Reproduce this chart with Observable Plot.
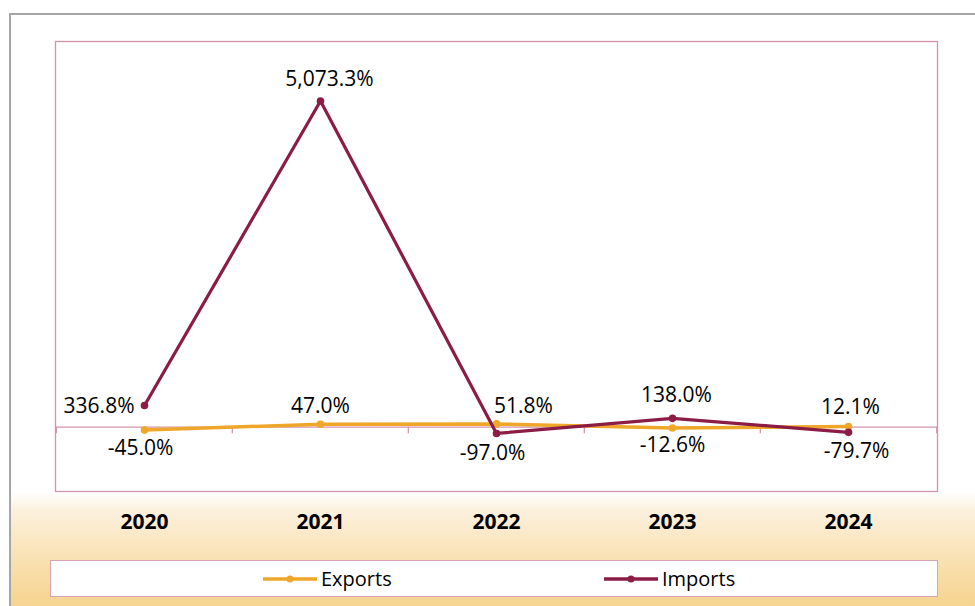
<!DOCTYPE html>
<html><head><meta charset="utf-8">
<script src="https://cdn.jsdelivr.net/npm/d3@7"></script>
<script src="https://cdn.jsdelivr.net/npm/@observablehq/plot@0.6"></script>
<style>
html,body{margin:0;padding:0;background:#fff;}
#wrap{position:relative;width:975px;height:606px;overflow:hidden;background:#fff;font-family:"Open Sans",sans-serif;}
#border{position:absolute;left:9px;top:13px;width:980px;height:600px;border-top:2px solid #A6A6A6;border-left:2px solid #A6A6A6;
 background:linear-gradient(to bottom,#fff 0px,#fff 477px,#FCF1DE 495px,#F9E2B5 540px,#F6D38D 593px);}
#chart{position:absolute;left:0;top:0;}
#legend{position:absolute;left:50px;top:560px;width:886px;height:35px;background:#fff;border:1px solid #D9A2B6;}
.item{position:absolute;top:0;height:35px;display:flex;align-items:center;font-size:20px;color:#000;}
.item svg{margin-right:4px;}
</style></head>
<body>
<div id="wrap">
 <div id="border"></div>
 <div id="chart"></div>
 <div id="legend"></div>
</div>
<script>
const years = ["2020", "2021", "2022", "2023", "2024"];
const exportsGrowth = [-45.0, 47.0, 51.8, -12.6, 12.1];
const importsGrowth = [336.8, 5073.3, -97.0, 138.0, -79.7];
const seriesNames = ["Exports", "Imports"];
const seriesColors = ["#EFA72A", "#8B1C46"];

const locale = d3.formatLocale({decimal: ".", thousands: ",", grouping: [3], currency: ["", ""], minus: "-"});
const fmt = v => locale.format(",.1f")(v) + "%";

// label placement (offsets from point, px)
const exportsLabelOffsets = [[-4, 18, "middle"], [0, -18, "middle"], [27, -18, "middle"], [0, 17, "middle"], [2, -19, "middle"]];
const importsLabelOffsets = [[-10, 1, "end"], [9, -22, "middle"], [-4, 20, "middle"], [4, -23, "middle"], [8, 19, "middle"]];

const exportsData = years.map((y, i) => ({year: y, value: exportsGrowth[i]}));
const importsData = years.map((y, i) => ({year: y, value: importsGrowth[i]}));

const W = 975, mL = 55, mR = 38;
const step = (W - mL - mR) / years.length;
const pink = "#D493AC";

const labelMarks = [];
exportsData.forEach((d, i) => {
  const [dx, dy, anchor] = exportsLabelOffsets[i];
  labelMarks.push(Plot.text([d], {x: "year", y: "value", text: d => fmt(d.value), dx, dy, textAnchor: anchor, fontSize: 21, fill: "#000"}));
});
importsData.forEach((d, i) => {
  const [dx, dy, anchor] = importsLabelOffsets[i];
  labelMarks.push(Plot.text([d], {x: "year", y: "value", text: d => fmt(d.value), dx, dy, textAnchor: anchor, fontSize: 21, fill: "#000"}));
});

const chart = Plot.plot({
  width: W,
  height: 545,
  marginLeft: mL,
  marginRight: mR,
  marginTop: 41,
  marginBottom: 54,
  style: {background: "transparent", fontFamily: "'Open Sans', sans-serif", fontSize: "21px", color: "#000", overflow: "visible"},
  x: {type: "point", domain: years, padding: 0.5, align: 0.5},
  y: {domain: [-1000, 6000]},
  marks: [
    Plot.frame({stroke: pink, strokeWidth: 1.3}),
    Plot.ruleY([0], {stroke: pink, strokeWidth: 1.3}),
    Plot.ruleX(years, {x: d => d, y1: 0, y2: -100, dx: -step / 2, stroke: pink, strokeWidth: 1.3}),
    Plot.ruleX([years[years.length - 1]], {x: d => d, y1: 0, y2: -100, dx: step / 2, stroke: pink, strokeWidth: 1.3}),
    Plot.axisX({tickSize: 0, tickPadding: 23, fontSize: 21, fontWeight: "bold", label: null, tickFormat: d => d}),
    Plot.axisY({ticks: [], label: null, tickSize: 0}),
    Plot.line(exportsData, {x: "year", y: "value", stroke: seriesColors[0], strokeWidth: 3.5}),
    Plot.dot(exportsData, {x: "year", y: "value", r: 3.8, fill: seriesColors[0], stroke: "none"}),
    Plot.line(importsData, {x: "year", y: "value", stroke: seriesColors[1], strokeWidth: 3.2}),
    Plot.dot(importsData, {x: "year", y: "value", r: 3.8, fill: seriesColors[1], stroke: "none"}),
    ...labelMarks
  ]
});
document.getElementById("chart").appendChild(chart);

const legend = document.getElementById("legend");
const legendLefts = [212, 553];
seriesNames.forEach((name, i) => {
  const item = document.createElement("div");
  item.className = "item";
  item.style.left = legendLefts[i] + "px";
  item.innerHTML = `<svg width="54" height="10"><line x1="0" y1="5" x2="54" y2="5" stroke="${seriesColors[i]}" stroke-width="3.5"/><circle cx="27" cy="5" r="3.5" fill="${seriesColors[i]}"/></svg><span>${name}</span>`;
  legend.appendChild(item);
});
</script>
</body></html>
